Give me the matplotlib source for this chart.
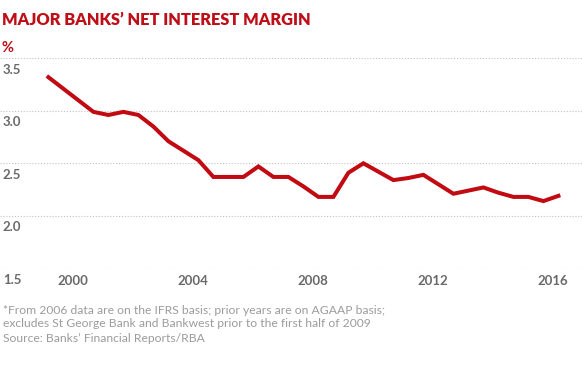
#!/usr/bin/env python3
"""Major banks' net interest margin, half-yearly, 1999-2016."""

import matplotlib
matplotlib.use("Agg")
import matplotlib.pyplot as plt
import matplotlib.transforms as mtransforms

# half-year periods and NIM (%)
periods = [
    "1999H1", "1999H2", "2000H1", "2000H2", "2001H1", "2001H2", "2002H1",
    "2002H2", "2003H1", "2003H2", "2004H1", "2004H2", "2005H1", "2005H2",
    "2006H1", "2006H2", "2007H1", "2007H2", "2008H1", "2008H2", "2009H1",
    "2009H2", "2010H1", "2010H2", "2011H1", "2011H2", "2012H1", "2012H2",
    "2013H1", "2013H2", "2014H1", "2014H2", "2015H1", "2015H2", "2016H1",
]
nim = [
    3.32, 3.21, 3.10, 2.99, 2.96, 2.99, 2.96,
    2.85, 2.71, 2.62, 2.53, 2.37, 2.37, 2.37,
    2.47, 2.37, 2.37, 2.28, 2.18, 2.18, 2.41,
    2.50, 2.42, 2.34, 2.36, 2.39, 2.30, 2.21,
    2.24, 2.27, 2.22, 2.18, 2.18, 2.14, 2.19,
]
x_ticks = [2000, 2004, 2008, 2012, 2016]
y_ticks = [1.5, 2.0, 2.5, 3.0, 3.5]

TITLE = "MAJOR BANKS\u2019 NET INTEREST MARGIN"
NOTE = ("*From 2006 data are on the IFRS basis; prior years are on AGAAP basis;\n"
        "excludes St George Bank and Bankwest prior to the first half of 2009")
SOURCE = "Source: Banks\u2019 Financial Reports/RBA"

RED = "#be0f18"
LINE_RED = "#c10a12"
GREY = "#6a6a6a"
LIGHT = "#9c9c9c"

plt.rcParams["font.family"] = ["Lato", "DejaVu Sans"]


def to_year(p):
    # put each half at its mid-point offset used in the original artwork
    yr, half = int(p[:4]), p[4:]
    return yr + (0.18 if half == "H1" else 0.68)


xs = [to_year(p) for p in periods]

W, H = 582, 374
fig = plt.figure(figsize=(W / 100, H / 100), dpi=100)

# axes spans full width so the dotted gridlines run edge to edge
y_top, y_bot = 58.3, 268.3
ax = fig.add_axes([0, 1 - y_bot / H, 1, (y_bot - y_top) / H])
ax.set_xlim(2000 - 73 / 30, 2000 + (W - 73) / 30)
ax.set_ylim(1.5, 3.5)

for v in y_ticks:
    ax.axhline(v, color="#c2c2c2", lw=0.8, ls=(0, (1, 1.6)), zorder=1)

ax.plot(xs, nim, color=LINE_RED, lw=2.9, solid_joinstyle="miter", zorder=3)

for s in ax.spines.values():
    s.set_visible(False)
ax.set_yticks([])
ax.set_xticks(x_ticks)
ax.set_xticklabels([str(t) for t in x_ticks], fontsize=9.5,
                   fontweight="bold", color=GREY)
ax.tick_params(axis="x", length=0, pad=5)

# y labels sit just under their gridline, flush left
trans = mtransforms.blended_transform_factory(ax.transAxes, ax.transData)
trans = mtransforms.offset_copy(trans, fig=fig, x=0, y=-4, units="points")
for v in y_ticks:
    ax.text(0.005, v, f"{v:.1f}", transform=trans, ha="left", va="top",
            fontsize=9.5, fontweight="bold", color=GREY)

fig.text(2 / W, 1 - 20 / H, TITLE, ha="left", va="center",
         fontsize=11.8, fontweight="heavy", color=RED)
fig.text(2 / W, 1 - 48 / H, "%", ha="left", va="center",
         fontsize=10.5, fontweight="bold", color=RED)

fig.text(3 / W, 1 - 317 / H, NOTE, ha="left", va="center",
         fontsize=8.7, color=LIGHT, linespacing=1.2)
fig.text(3 / W, 1 - 338.5 / H, SOURCE, ha="left", va="center",
         fontsize=8.7, color=LIGHT)

fig.savefig("out.png", dpi=100)
